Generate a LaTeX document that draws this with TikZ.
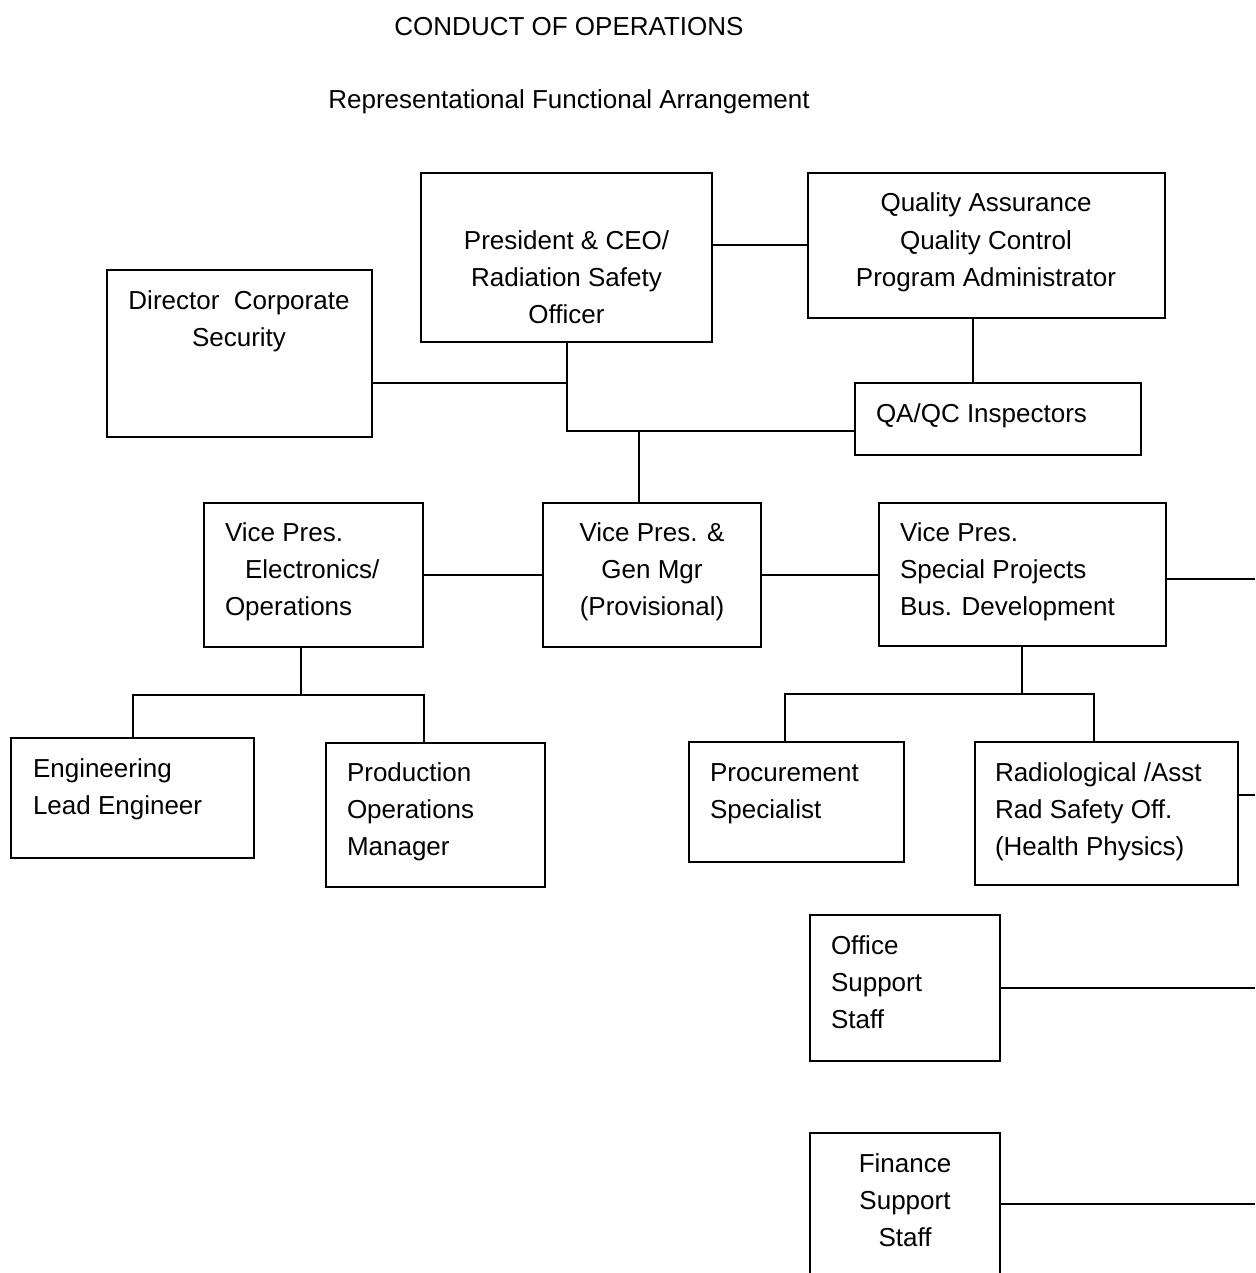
\documentclass[tikz,border=0pt]{standalone}
\usepackage{fontspec}
\setmainfont{Liberation Sans}
\begin{document}
\begin{tikzpicture}[x=1pt,y=-1pt,
  boxst/.style={draw, line width=2pt, anchor=north west, inner sep=0pt, outer sep=0pt},
  conn/.style={line width=2pt},
  txt/.style={inner sep=0pt, outer sep=0pt, font=\fontsize{26}{37}\selectfont}]
\useasboundingbox (0,0) rectangle (1255,1273);
\fill[white] (0,0) rectangle (1255,1273);
\newcommand\mybox[5]{\node[boxst, minimum width=#4pt, minimum height=#5pt] (#1) at (#2,#3) {};}
% boxes
\mybox{pres}{421}{173}{291}{169}
\mybox{qa}{808}{173}{357}{145}
\mybox{insp}{855}{383}{286}{72}
\mybox{dir}{107}{270}{265}{167}
\mybox{vpe}{204}{503}{219}{144}
\mybox{vpg}{543}{503}{218}{144}
\mybox{vps}{879}{503}{287}{143}
\mybox{eng}{11}{738}{243}{120}
\mybox{prod}{326}{743}{219}{144}
\mybox{proc}{689}{742}{215}{120}
\mybox{rad}{975}{742}{263}{143}
\mybox{off}{810}{915}{190}{146}
\mybox{fin}{810}{1133}{190}{143}
% titles
\node[txt, anchor=base] (title) at (569,36) {CONDUCT OF OPERATIONS};
\node[txt, anchor=base] (subtitle) at (569,109) {Representational Functional Arrangement};
% texts
\node[txt, anchor=north, align=center] (tpres) at (566.5,223.1) {\strut President \& CEO/\\\strut Radiation Safety\\\strut Officer};
\node[txt, anchor=north, align=center] (tqa) at (986,186.1) {\strut Quality Assurance\\\strut Quality Control\\\strut Program Administrator};
\node[txt, anchor=base west] (tinsp) at (876,422) {QA/QC Inspectors};
\node[txt, anchor=north, align=center] (tdir) at (239,283.1) {\strut Director~~Corporate\\\strut Security};
\node[txt, anchor=north west, align=left] (tvpe) at (225,515.1) {\strut Vice Pres.\\\strut\hspace*{20pt}Electronics/\\\strut Operations};
\node[txt, anchor=north, align=center] (tvpg) at (652,515.1) {\strut Vice Pres. \&\\\strut Gen Mgr\\\strut (Provisional)};
\node[txt, anchor=north west, align=left] (tvps) at (900,515.1) {\strut Vice Pres.\\\strut Special Projects\\\strut Bus. Development};
\node[txt, anchor=north west, align=left] (teng) at (33,751.1) {\strut Engineering\\\strut Lead Engineer};
\node[txt, anchor=north west, align=left] (tprod) at (347,755.1) {\strut Production\\\strut Operations\\\strut Manager};
\node[txt, anchor=north west, align=left] (tproc) at (710,755.1) {\strut Procurement\\\strut Specialist};
\node[txt, anchor=north west, align=left] (trad) at (995,755.1) {\strut Radiological /Asst\\\strut Rad Safety Off.\\\strut (Health Physics)};
\node[txt, anchor=north west, align=left] (toff) at (831,928.1) {\strut Office\\\strut Support\\\strut Staff};
\node[txt, anchor=north, align=center] (tfin) at (905,1146.1) {\strut Finance\\\strut Support\\\strut Staff};
% junction coordinates
\coordinate (qad) at ([xshift=-13.5pt]qa.south);
\coordinate (j1) at (566.5,431);
\coordinate (dirj) at ([yshift=-29.5pt]dir.east);
\coordinate (j2) at (639,431);
\coordinate (r1) at (1255,579);
\coordinate (b1) at (301,695);
\coordinate (b1R) at (424,695);
\coordinate (b2) at (1022,694);
\coordinate (b2L) at (785,694);
\coordinate (b2R) at (1094,694);
\coordinate (r2) at (1255,795);
\coordinate (r3) at (1255,988);
\coordinate (r4) at (1255,1204);
% connectors
\draw[conn] (pres.east |- qa.west) -- (qa.west);
\draw[conn] (qad) -- (qad |- insp.north);
\draw[conn] (pres.south) -- (j1) -- (j1 -| insp.west);
\draw[conn] (dirj) -- (dirj -| pres.south);
\draw[conn] (j2) -- (j2 |- vpg.north);
\draw[conn] (vpe.east) -- (vpe.east -| vpg.west);
\draw[conn] (vpg.east) -- (vpg.east -| vps.west);
\draw[conn] (vps.east |- r1) -- (r1);
\draw[conn] (b1 |- vpe.south) -- (b1);
\draw[conn] (eng.north) |- (b1R) -- (b1R |- prod.north);
\draw[conn] (b2 |- vps.south) -- (b2);
\draw[conn] (b2L |- proc.north) -- (b2L) -- (b2R) -- (b2R |- rad.north);
\draw[conn] (rad.east |- r2) -- (r2);
\draw[conn] (off.east |- r3) -- (r3);
\draw[conn] (fin.east |- r4) -- (r4);
\end{tikzpicture}
\end{document}
